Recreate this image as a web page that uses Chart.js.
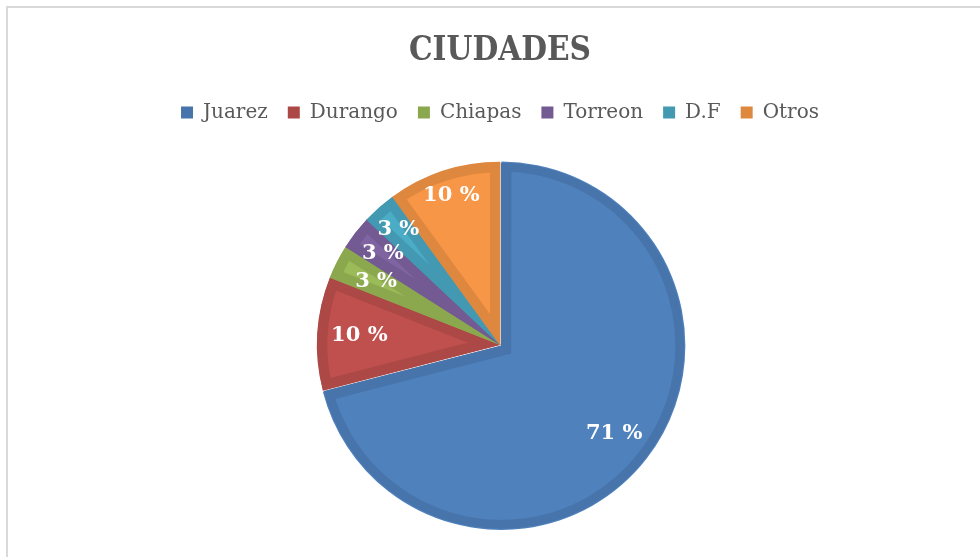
<!DOCTYPE html>
<html>
<head>
<meta charset="utf-8">
<script src="https://cdn.jsdelivr.net/npm/chart.js@4/dist/chart.umd.min.js"></script>
<style>
  html, body { margin: 0; padding: 0; overflow: hidden; background: #fff; }
  #frame { position: absolute; left: 6px; top: 6px; width: 1100px; height: 700px; border: 2px solid #d9d9d9; box-sizing: border-box; }
  #wrap { position: absolute; left: 0; top: 0; width: 1000px; height: 557px; }
</style>
</head>
<body>
<div id="frame"></div>
<div id="wrap"><canvas id="c" width="1000" height="557"></canvas></div>
<script>
const titleText = 'CIUDADES';
const categories = ['Juarez', 'Durango', 'Chiapas', 'Torreon', 'D.F', 'Otros'];
const percentValues = [71, 10, 3, 3, 3, 10];
const percentLabels = ['71 %', '10 %', '3 %', '3 %', '3 %', '10 %'];

const fillColors = ['#4F81BD', '#C0504D', '#9BBB59', '#8064A2', '#4BACC6', '#F79646'];
const edgeColors = ['#4774AA', '#AC4845', '#8BA84F', '#735A92', '#4399B1', '#DE873F'];
const labelRadiusFrac = [0.79, 0.77, 0.76, 0.81, 0.84, 0.86];

const sliceLabels = {
  id: 'sliceLabels',
  afterDatasetsDraw(chart) {
    const ctx = chart.ctx;
    const meta = chart.getDatasetMeta(0);
    ctx.save();
    ctx.fillStyle = '#ffffff';
    ctx.font = 'bold 21px "DejaVu Serif", serif';
    ctx.textAlign = 'center';
    ctx.textBaseline = 'middle';
    meta.data.forEach((arc, i) => {
      const p = arc.getProps(['x', 'y', 'startAngle', 'endAngle', 'outerRadius'], true);
      const mid = (p.startAngle + p.endAngle) / 2;
      const r = p.outerRadius * labelRadiusFrac[i];
      ctx.fillText(percentLabels[i], p.x + Math.cos(mid) * r, p.y + Math.sin(mid) * r);
    });
    ctx.restore();
  }
};

new Chart(document.getElementById('c'), {
  type: 'pie',
  data: {
    labels: categories,
    datasets: [{
      data: percentValues,
      backgroundColor: fillColors,
      borderColor: edgeColors,
      borderWidth: 10,
      borderAlign: 'inner',
      borderJoinStyle: 'miter',
      offset: [6, 0, 0, 0, 0, 0],
      hoverOffset: 0,
      radius: 183
    }]
  },
  options: {
    responsive: false,
    animation: false,
    events: [],
    layout: { padding: { top: 0, bottom: 0, left: 0, right: 0 } },
    plugins: {
      tooltip: { enabled: false },
      title: {
        display: true,
        text: titleText,
        color: '#595959',
        font: { family: "'DejaVu Serif Condensed', 'DejaVu Serif', serif", size: 33, weight: 'bold', lineHeight: 1.2 },
        padding: { top: 32, bottom: 11 }
      },
      legend: {
        display: true,
        position: 'top',
        labels: {
          boxWidth: 12,
          boxHeight: 12,
          padding: 20,
          color: '#595959',
          font: { family: "'DejaVu Serif', serif", size: 20 },
          generateLabels: () => categories.map((t, i) => ({
            text: t,
            fillStyle: edgeColors[i],
            strokeStyle: edgeColors[i],
            lineWidth: 0,
            hidden: false,
            index: i,
            fontColor: '#595959'
          }))
        }
      }
    }
  },
  plugins: [sliceLabels]
});
</script>
</body>
</html>
